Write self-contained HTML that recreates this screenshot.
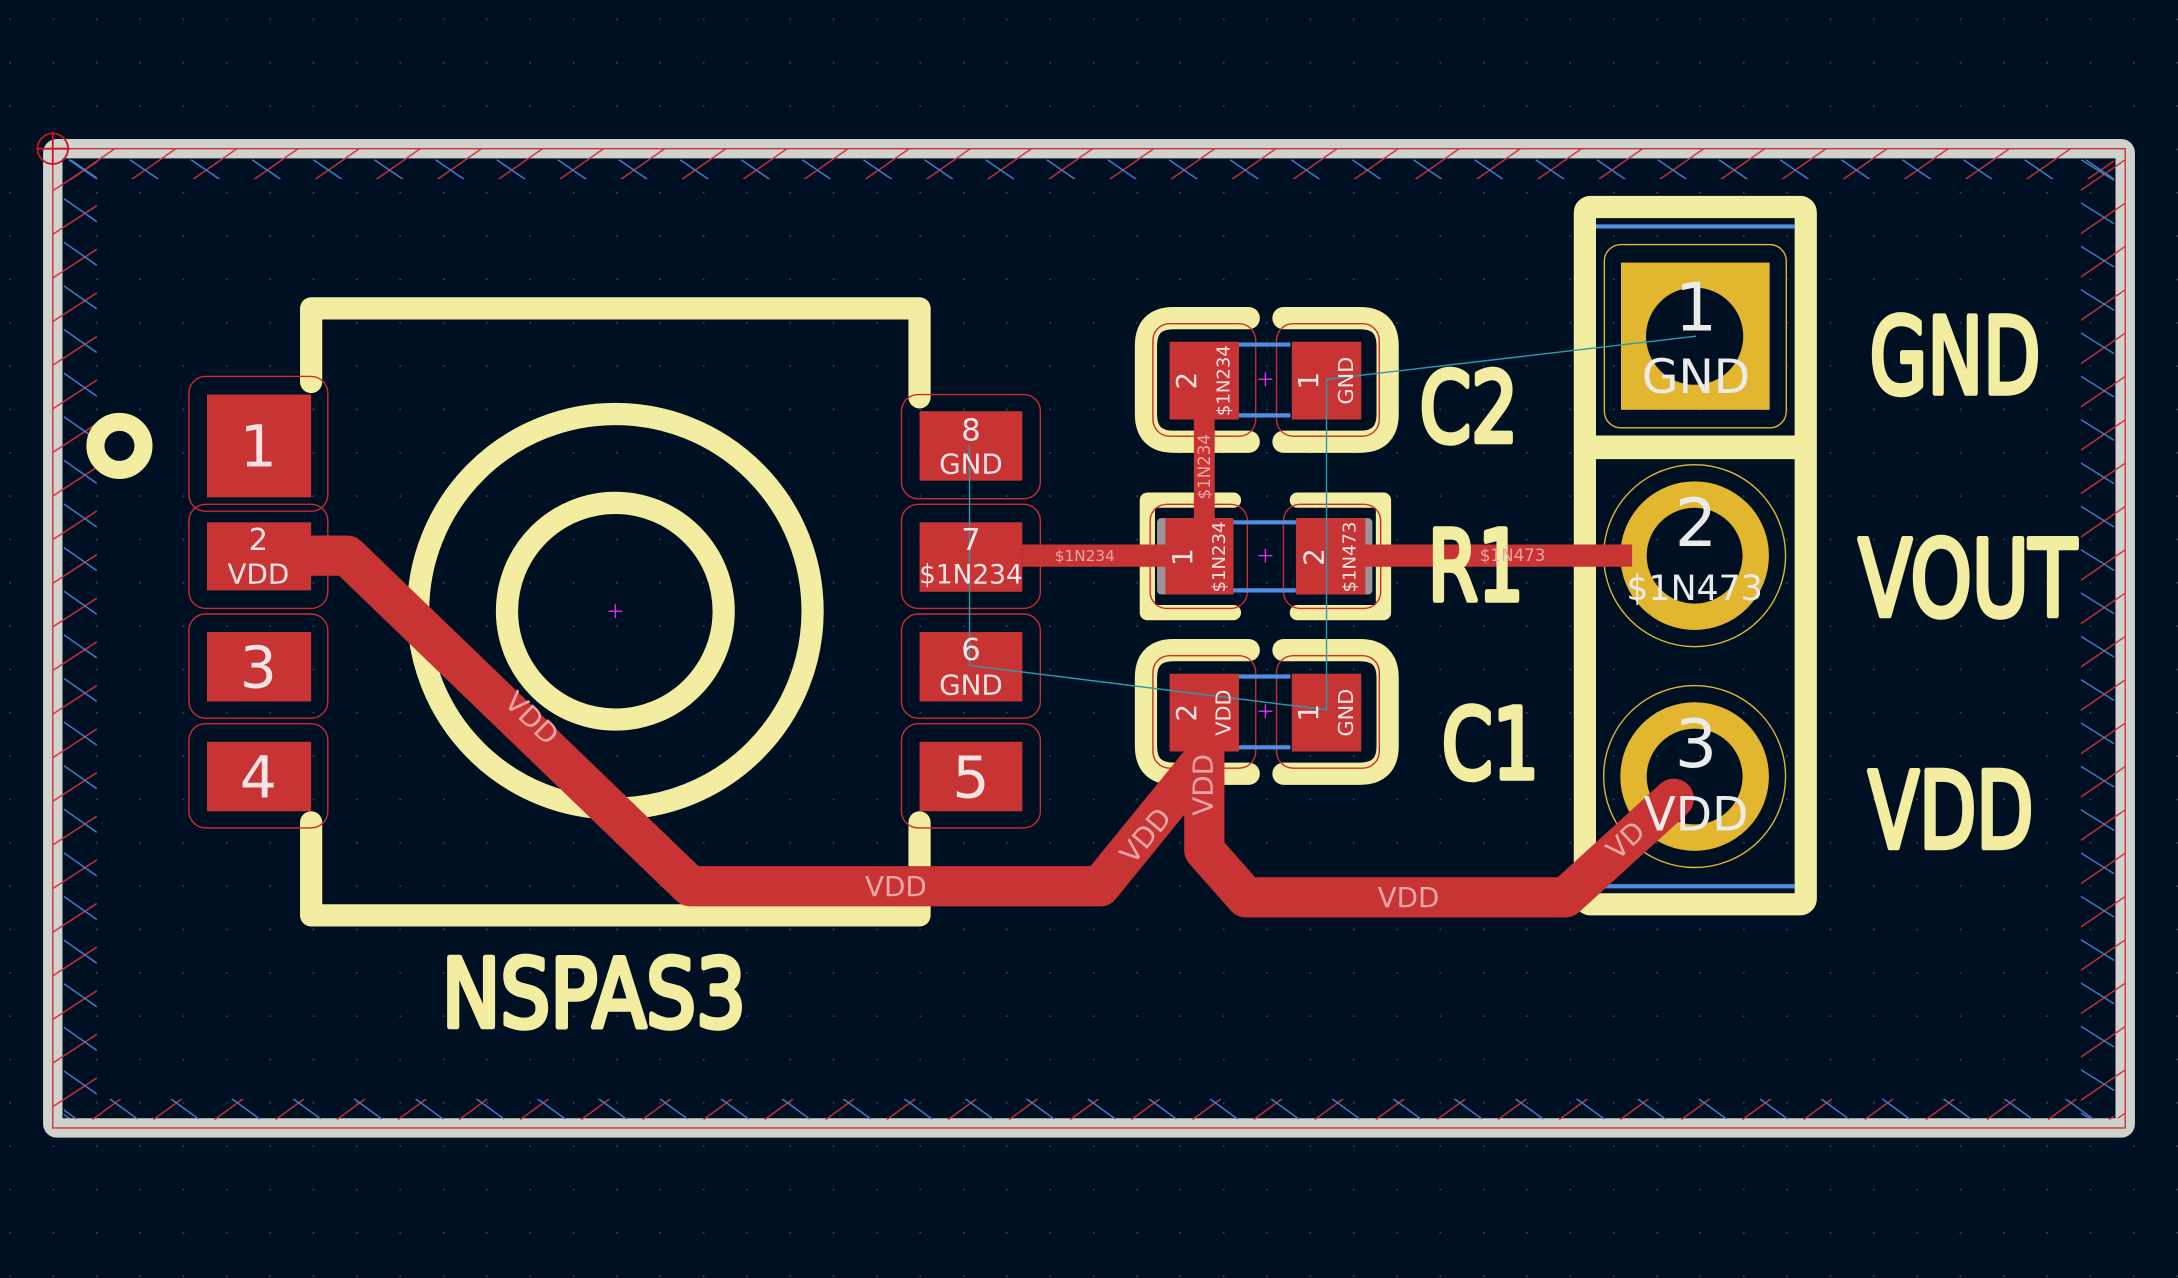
<!DOCTYPE html>
<html><head><meta charset="utf-8"><style>
html,body{margin:0;padding:0;background:#001023;}
svg{display:block;}
text{font-family:"DejaVu Sans","Liberation Sans",sans-serif;}
</style></head><body>
<svg width="2178" height="1278" viewBox="0 0 1568 920" xmlns="http://www.w3.org/2000/svg">
<defs>
<pattern id="grid" x="38" y="107" width="31.2" height="31.2" patternUnits="userSpaceOnUse">
<rect x="0" y="0" width="1.1" height="1.1" fill="#3c4a5c"/></pattern>
<pattern id="hTop" x="95" y="107" width="44" height="22" patternUnits="userSpaceOnUse">
<g stroke-width="1" fill="none"><line x1="0" y1="22" x2="31.6" y2="0" stroke="#d0303a"/><line x1="44" y1="22" x2="75.6" y2="0" stroke="#d0303a"/>
<line x1="-1.4" y1="8" x2="19" y2="22" stroke="#4a7fd0"/><line x1="42.6" y1="8" x2="63" y2="22" stroke="#4a7fd0"/></g></pattern>
<pattern id="hLeft" x="38" y="137.3" width="40" height="31.4" patternUnits="userSpaceOnUse">
<g stroke-width="1" fill="none"><line x1="0" y1="31.4" x2="31.7" y2="10.7" stroke="#d0303a"/><line x1="0" y1="0" x2="31.7" y2="-20.7" stroke="#d0303a"/>
<line x1="8" y1="5.7" x2="31.7" y2="22.3" stroke="#4a7fd0"/></g></pattern>
<pattern id="hRight" x="1498" y="137" width="40" height="31.2" patternUnits="userSpaceOnUse">
<g stroke-width="1" fill="none"><line x1="0" y1="31.2" x2="32" y2="9.2" stroke="#d0303a"/><line x1="0" y1="0" x2="32" y2="-22" stroke="#d0303a"/>
<line x1="0" y1="9" x2="24" y2="24" stroke="#4a7fd0"/></g></pattern>
<pattern id="hBot" x="286.5" y="791" width="44" height="16" patternUnits="userSpaceOnUse">
<g stroke-width="1" fill="none"><line x1="0" y1="15" x2="20.5" y2="0" stroke="#d0303a"/><line x1="44" y1="15" x2="64.5" y2="0" stroke="#d0303a"/>
<line x1="12.5" y1="0" x2="32.5" y2="14.6" stroke="#4a7fd0"/><line x1="-31.5" y1="0" x2="-11.5" y2="14.6" stroke="#4a7fd0"/></g></pattern>
</defs>
<rect width="1568" height="920" fill="#001023"/>
<rect width="1568" height="920" fill="url(#grid)"/>

<rect x="38" y="107" width="1492" height="705" rx="3" fill="none" stroke="#d0d2cd" stroke-width="14"/>
<rect x="38" y="107" width="1492" height="705" fill="none" stroke="#d0303a" stroke-width="1"/>
<rect x="46" y="107" width="1476" height="22" fill="url(#hTop)"/>
<rect x="38" y="115" width="32" height="690" fill="url(#hLeft)"/>
<rect x="1498" y="115" width="32" height="690" fill="url(#hRight)"/>
<rect x="46" y="791" width="1476" height="16" fill="url(#hBot)"/>
<circle cx="38" cy="107" r="11" fill="none" stroke="#d01020" stroke-width="1.3"/>
<line x1="26" y1="107" x2="50" y2="107" stroke="#d01020" stroke-width="1.3"/>
<line x1="38" y1="95" x2="38" y2="119" stroke="#d01020" stroke-width="1.3"/>

<g fill="none" stroke="#f2eda0" stroke-width="16" stroke-linecap="round" stroke-linejoin="round">
<polyline points="224,275 224,222 662,222 662,286"/>
<polyline points="224,592 224,659 662,659 662,592"/>
<circle cx="443" cy="440" r="142"/>
<circle cx="443" cy="440" r="78"/>
</g>
<circle cx="86" cy="321" r="17.3" fill="none" stroke="#f2eda0" stroke-width="13"/>

<g fill="none" stroke="#d02a30" stroke-width="1">
<rect x="136" y="271" width="100" height="97" rx="12"/>
<rect x="136" y="363" width="100" height="75" rx="12"/>
<rect x="136" y="442" width="100" height="75" rx="12"/>
<rect x="136" y="521" width="100" height="75" rx="12"/>
<rect x="649" y="284" width="100" height="75" rx="12"/>
<rect x="649" y="363" width="100" height="75" rx="12"/>
<rect x="649" y="442" width="100" height="75" rx="12"/>
<rect x="649" y="521" width="100" height="75" rx="12"/>
</g>

<rect x="1141" y="149" width="159" height="502" rx="4" fill="none" stroke="#f2eda0" stroke-width="16"/>
<line x1="1141" y1="322" x2="1300" y2="322" stroke="#f2eda0" stroke-width="17"/>
<line x1="1149" y1="163" x2="1292" y2="163" stroke="#5090e0" stroke-width="3"/>
<line x1="1149" y1="638" x2="1292" y2="638" stroke="#5090e0" stroke-width="3"/>
<rect x="1155" y="176" width="131" height="132" rx="12" fill="none" stroke="#e2b62e" stroke-width="1"/>
<circle cx="1220" cy="400" r="65.5" fill="none" stroke="#e2b62e" stroke-width="1"/>
<circle cx="1220" cy="559" r="65.5" fill="none" stroke="#e2b62e" stroke-width="1"/>
<rect x="1167" y="189" width="107" height="106" fill="#e2b62e"/>
<circle cx="1220" cy="242" r="35" fill="#001023"/>
<circle cx="1220" cy="400" r="44" fill="none" stroke="#e2b62e" stroke-width="19"/>
<circle cx="1220" cy="559" r="44" fill="none" stroke="#e2b62e" stroke-width="19"/>

<g fill="none" stroke="#f2eda0" stroke-width="16" stroke-linecap="round" stroke-linejoin="round">
<path d="M899,229 L845,229 Q825,229 825,249 L825,298 Q825,318 845,318 L899,318"/>
<path d="M924,229 L979,229 Q999,229 999,249 L999,298 Q999,318 979,318 L924,318"/>
<path d="M899,468 L845,468 Q825,468 825,488 L825,537 Q825,557 845,557 L899,557"/>
<path d="M924,468 L979,468 Q999,468 999,488 L999,537 Q999,557 979,557 L924,557"/>
</g>
<g fill="none" stroke="#f2eda0" stroke-width="11" stroke-linecap="round" stroke-linejoin="round">
<path d="M888,360 L826,360 L826,441 L888,441"/>
<path d="M934,360 L996,360 L996,441 L934,441"/>
</g>
<g fill="none" stroke="#d02a30" stroke-width="1">
<rect x="830" y="233" width="74" height="81" rx="12"/>
<rect x="919" y="233" width="74" height="81" rx="12"/>
<rect x="830" y="472" width="74" height="81" rx="12"/>
<rect x="919" y="472" width="74" height="81" rx="12"/>
<rect x="828" y="363" width="70" height="75" rx="12"/>
<rect x="924" y="363" width="70" height="75" rx="12"/>
</g>
<g stroke="#5090e0" stroke-width="3">
<line x1="892" y1="248" x2="929" y2="248"/><line x1="892" y1="299" x2="929" y2="299"/>
<line x1="892" y1="487" x2="929" y2="487"/><line x1="892" y1="538" x2="929" y2="538"/>
<line x1="888" y1="376" x2="933" y2="376"/><line x1="888" y1="425" x2="933" y2="425"/>
</g>
<rect x="833" y="373" width="55" height="55" rx="3" fill="#9c9498"/>
<rect x="933" y="373" width="55" height="55" rx="3" fill="#9c9498"/>

<g fill="none" stroke="#c83434" stroke-linejoin="round" stroke-linecap="round">
<polyline points="224,400 250,400 497,638 792,638 862,552" stroke-width="29"/>
<polyline points="867,540 867,612 897,646 1127,646 1205,575" stroke-width="29"/>
<line x1="736" y1="400" x2="850" y2="400" stroke-width="16" stroke-linecap="butt"/>
<line x1="980" y1="400" x2="1175" y2="400" stroke-width="16" stroke-linecap="butt"/>
<line x1="867" y1="300" x2="867" y2="380" stroke-width="15" stroke-linecap="butt"/>
</g>

<g fill="#c83434">
<rect x="149" y="284" width="75" height="74"/>
<rect x="149" y="376" width="75" height="49"/>
<rect x="149" y="455" width="75" height="50"/>
<rect x="149" y="534" width="75" height="50"/>
<rect x="662" y="296" width="74" height="50"/>
<rect x="662" y="376" width="74" height="50"/>
<rect x="662" y="455" width="74" height="50"/>
<rect x="662" y="534" width="74" height="50"/>
<rect x="842" y="246" width="50" height="56"/>
<rect x="930" y="246" width="50" height="56"/>
<rect x="842" y="485" width="50" height="56"/>
<rect x="930" y="485" width="50" height="56"/>
<rect x="839" y="373" width="49" height="55"/>
<rect x="933" y="373" width="50" height="55"/>
</g>

<g stroke="#2a9cb0" stroke-width="1" fill="none">
<polyline points="1221,242 955,273 955,511 698,479 698,321"/>
</g>
<g stroke="#e030e0" stroke-width="1">
<line x1="438" y1="440" x2="448" y2="440"/><line x1="443" y1="435" x2="443" y2="445"/>
<line x1="906" y1="273" x2="916" y2="273"/><line x1="911" y1="268" x2="911" y2="278"/>
<line x1="906" y1="400" x2="916" y2="400"/><line x1="911" y1="395" x2="911" y2="405"/>
<line x1="906" y1="512" x2="916" y2="512"/><line x1="911" y1="507" x2="911" y2="517"/>
</g>

<g fill="#f2eda0" stroke="#f2eda0" stroke-width="4" stroke-linejoin="round">
<text x="1346" y="283" font-size="76" textLength="123" lengthAdjust="spacingAndGlyphs">GND</text>
<text x="1338" y="443" font-size="76" textLength="157" lengthAdjust="spacingAndGlyphs">VOUT</text>
<text x="1345" y="610" font-size="76" textLength="119" lengthAdjust="spacingAndGlyphs">VDD</text>
<text x="1022" y="318" font-size="70" textLength="71" lengthAdjust="spacingAndGlyphs">C2</text>
<text x="1028" y="432" font-size="70" textLength="69" lengthAdjust="spacingAndGlyphs">R1</text>
<text x="1038" y="560" font-size="70" textLength="70" lengthAdjust="spacingAndGlyphs">C1</text>
<text x="318" y="739" font-size="68" textLength="219" lengthAdjust="spacingAndGlyphs">NSPAS3</text>
</g>

<g fill="#f5e4e4" text-anchor="middle">
<text x="186" y="336" font-size="42">1</text>
<text x="186" y="396" font-size="22">2</text>
<text x="186" y="420" font-size="20">VDD</text>
<text x="186" y="495" font-size="42">3</text>
<text x="186" y="574" font-size="42">4</text>
<text x="699" y="317" font-size="22">8</text>
<text x="699" y="341" font-size="20">GND</text>
<text x="699" y="396" font-size="22">7</text>
<text x="699" y="420" font-size="19">$1N234</text>
<text x="699" y="475" font-size="22">6</text>
<text x="699" y="500" font-size="20">GND</text>
<text x="699" y="574" font-size="42">5</text>
<g font-size="20">
<text transform="translate(861,274) rotate(-90)">2</text>
<text transform="translate(949,274) rotate(-90)">1</text>
<text transform="translate(861,513) rotate(-90)">2</text>
<text transform="translate(949,513) rotate(-90)">1</text>
<text transform="translate(858,401) rotate(-90)">1</text>
<text transform="translate(953,401) rotate(-90)">2</text>
</g>
<g font-size="13">
<text transform="translate(885,274) rotate(-90)">$1N234</text>
<text transform="translate(974,274) rotate(-90)" font-size="15">GND</text>
<text transform="translate(886,513) rotate(-90)" font-size="15">VDD</text>
<text transform="translate(974,513) rotate(-90)" font-size="15">GND</text>
<text transform="translate(882,401) rotate(-90)">$1N234</text>
<text transform="translate(976,401) rotate(-90)">$1N473</text>
</g>
</g>
<g fill="#eaa6a6" text-anchor="middle" font-size="20">
<text transform="translate(378,522) rotate(44)">VDD</text>
<text x="645" y="645">VDD</text>
<text transform="translate(830,606) rotate(-50)">VDD</text>
<text transform="translate(873,565) rotate(-90)">VDD</text>
<text x="1014" y="653">VDD</text>
<text transform="translate(1175,610) rotate(-43)">VD</text>
<text x="781" y="404" font-size="11">$1N234</text>
<text x="1089" y="404" font-size="12">$1N473</text>
<text transform="translate(871,336) rotate(-90)" font-size="12">$1N234</text>
</g>
<g fill="#ecebeb" text-anchor="middle">
<text x="1221" y="238" font-size="48">1</text>
<text x="1221" y="283" font-size="34">GND</text>
<text x="1221" y="393" font-size="48">2</text>
<text x="1220" y="432" font-size="25">$1N473</text>
<text x="1221" y="552" font-size="48">3</text>
<text x="1221" y="598" font-size="34">VDD</text>
</g>
</svg>
</body></html>
